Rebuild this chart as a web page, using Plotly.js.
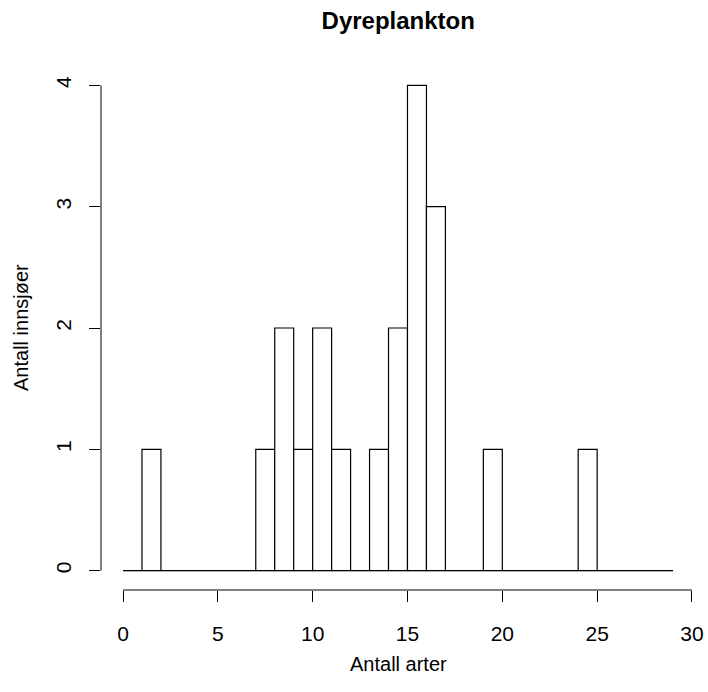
<!DOCTYPE html>
<html>
<head>
<meta charset="utf-8">
<script src="https://cdn.plot.ly/plotly-3.0.1.min.js"></script>
<style>html,body{margin:0;padding:0;background:#fff;}#chart{width:708px;height:692px;}</style>
</head>
<body>
<div id="chart"></div>
<script>
// Histogram breaks (bin edges) and counts per bin [breaks[i], breaks[i+1]]
const breaks = [0,1,2,3,4,5,6,7,8,9,10,11,12,13,14,15,16,17,18,19,20,21,22,23,24,25,26,27,28,29];
const counts = [0,1,0,0,0,0,0,1,2,1,2,1,0,1,2,4,3,0,0,1,0,0,0,0,1,0,0,0,0];
const xTicks = [0,5,10,15,20,25,30];
const yTicks = [0,1,2,3,4];
const titleText = "Dyreplankton";
const xTitle = "Antall arter";
const yTitle = "Antall innsjøer";

const nextEdge = i => (breaks[i+1] !== undefined ? breaks[i+1] : breaks[i] + 1);
const mids = counts.map((c, i) => (breaks[i] + nextEdge(i)) / 2);
const widths = counts.map((c, i) => nextEdge(i) - breaks[i]);
const xMin = breaks[0];
const xMax = nextEdge(counts.length - 1);
const yMax = Math.max(...counts);
const xPad = (xMax - xMin) * 0.04;
const yPad = yMax * 0.04;

const FONT = "Liberation Sans, Arial, Helvetica, sans-serif";

const W = 708, H = 692;
const M = {l: 101, r: 13, t: 66, b: 102};
const plotW = W - M.l - M.r, plotH = H - M.t - M.b;
const px2paperX = px => (px - M.l) / plotW;
const px2paperY = py => (H - M.b - py) / plotH;

const traces = [
  {
    type: "scatter", mode: "lines",
    x: [xMin, xMax], y: [0, 0],
    line: {color: "#000", width: 1},
    hoverinfo: "skip", showlegend: false
  },
  {
    type: "bar",
    x: mids, y: counts, width: widths,
    marker: {color: "#ffffff", line: {color: "#000", width: 1.2}},
    showlegend: false
  }
];

const layout = {
  width: W, height: H,
  paper_bgcolor: "#fff", plot_bgcolor: "#fff",
  margin: {l: M.l, r: M.r, t: M.t, b: M.b, pad: 0},
  font: {family: FONT, color: "#000"},
  title: {
    text: "<b>" + titleText + "</b>",
    font: {family: FONT, size: 24, color: "#000"},
    x: 0.5625, xref: "container", xanchor: "center",
    y: 1 - 21/692, yref: "container", yanchor: "middle"
  },
  xaxis: {
    range: [xMin - xPad, xMax + xPad],
    tickvals: xTicks, ticktext: xTicks.map(String),
    ticks: "outside", ticklen: 11, tickwidth: 1, tickcolor: "#000",
    ticklabelstandoff: 14,
    showline: false, zeroline: false, showgrid: false,
    tickfont: {family: FONT, size: 21, color: "#000"},
    fixedrange: true
  },
  yaxis: {
    range: [-yPad, yMax + yPad],
    tickvals: yTicks, ticktext: yTicks.map(String),
    tickangle: -90,
    ticks: "outside", ticklen: 11, tickwidth: 1, tickcolor: "#000",
    ticklabelstandoff: 10,
    showline: false, zeroline: false, showgrid: false,
    tickfont: {family: FONT, size: 21, color: "#000"},
    fixedrange: true
  },
  shapes: [
    {type: "line", xref: "x", yref: "paper", x0: xTicks[0], x1: xTicks[xTicks.length-1], y0: 0, y1: 0, line: {color: "#000", width: 1}},
    {type: "line", xref: "paper", yref: "y", x0: 0, x1: 0, y0: yTicks[0], y1: yTicks[yTicks.length-1], line: {color: "#000", width: 1}}
  ],
  annotations: [
    {text: xTitle, xref: "paper", yref: "paper", x: 0.5, y: px2paperY(664), xanchor: "center", yanchor: "middle",
     showarrow: false, font: {family: FONT, size: 20, color: "#000"}},
    {text: yTitle, xref: "paper", yref: "paper", x: px2paperX(21), y: 0.5, xanchor: "center", yanchor: "middle",
     textangle: -90, showarrow: false, font: {family: FONT, size: 20, color: "#000"}}
  ],
  bargap: 0
};

Plotly.newPlot("chart", traces, layout, {displayModeBar: false, staticPlot: true});
</script>
</body>
</html>
